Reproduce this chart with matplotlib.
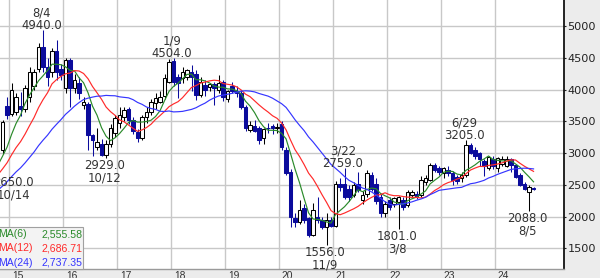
import numpy as np
import pandas as pd
import matplotlib
matplotlib.use("Agg")
import matplotlib.pyplot as plt
from matplotlib.transforms import ScaledTranslation
from matplotlib.patches import Rectangle

# ---------------- data (monthly candles, month index 0 = Jan 2015) ----------------
start_month = -2  # first visible candle: Nov 2014
opens = [3050, 3740, 3620, 3650, 3740, 3700, 3890, 4050, 4330, 4670,
         4360, 4280, 4600, 4330, 4030, 4470, 4020, 4100, 3760, 3770,
         3280, 3090, 3150, 2970, 3150, 3310, 3470, 3560, 3690, 3520,
         3330, 3240, 3560, 3650, 3780, 3810, 3900, 4120, 4450, 4200,
         4180, 4200, 4280, 4250, 3910, 4070, 4040, 4090, 3990, 4120,
         3850, 4050, 3970, 3940, 3730, 3360, 3420, 3390, 3230, 3400,
         3420, 3390, 3450, 3050, 2700, 1980, 1920, 2130, 1970, 1710,
         2000, 1950, 1830, 1950, 1850, 2520, 2520, 2440, 2340, 2520,
         2260, 2360, 2650, 2520, 2300, 2050, 2260, 2200, 2230, 2260,
         2180, 2340, 2360, 2340, 2550, 2580, 2810, 2760, 2680, 2740,
         2680, 2630, 2600, 2650, 3130, 3050, 3000, 2870, 2760, 2900,
         2760, 2830, 2800, 2900, 2810, 2650, 2520, 2380, 2450]
highs = [3520, 3890, 4100, 3950, 3960, 4070, 4360, 4330, 4740, 4940,
         4500, 4650, 4780, 4400, 4500, 4500, 4250, 4200, 3890, 3800,
         3300, 3400, 3220, 3200, 3450, 3600, 3730, 3730, 3730, 3560,
         3380, 3600, 3720, 3850, 3950, 3980, 4250, 4480, 4504, 4250,
         4350, 4330, 4380, 4300, 4200, 4150, 4100, 4120, 4230, 4150,
         4000, 4120, 4060, 4000, 3760, 3500, 3520, 3420, 3400, 3470,
         3450, 3470, 3500, 3100, 2750, 2050, 2260, 2200, 2000, 2210,
         2310, 2000, 2050, 2000, 2560, 2600, 2759, 2500, 2550, 2700,
         2400, 2730, 2700, 2600, 2350, 2250, 2300, 2310, 2330, 2300,
         2420, 2420, 2400, 2640, 2650, 2840, 2850, 2800, 2780, 2790,
         2720, 2660, 2700, 3205, 3160, 3100, 3020, 2900, 2960, 2950,
         2940, 2950, 2950, 2920, 2830, 2680, 2550, 2500, 2470]
lows = [2990, 3530, 3580, 3600, 3590, 3650, 3800, 3990, 4280, 4280,
        4050, 4200, 4150, 4150, 3950, 3730, 3950, 3850, 3700, 3050,
        2950, 3050, 2950, 2929, 3100, 3250, 3400, 3500, 3450, 3300,
        3180, 3200, 3480, 3600, 3700, 3780, 3850, 4100, 4050, 3860,
        4100, 4150, 3980, 3840, 3880, 3900, 3980, 3760, 3950, 3820,
        3800, 3950, 3880, 3700, 3350, 3330, 3330, 3150, 3150, 3320,
        3300, 3310, 3050, 2650, 1830, 1830, 1880, 1900, 1680, 1700,
        1900, 1800, 1556, 1830, 1830, 2400, 2280, 2250, 2300, 2380,
        2200, 2300, 2400, 2200, 2000, 2000, 2100, 2150, 1801, 2100,
        2150, 2300, 2280, 2300, 2500, 2560, 2700, 2650, 2600, 2640,
        2500, 2520, 2550, 2620, 2980, 2900, 2800, 2640, 2740, 2750,
        2700, 2800, 2780, 2700, 2600, 2480, 2420, 2088, 2420]
closes = [3490, 3600, 4000, 3890, 3690, 4020, 4280, 4280, 4670, 4360,
          4200, 4600, 4280, 4230, 4470, 4030, 4150, 3950, 3810, 3280,
          3200, 3180, 2970, 3150, 3390, 3550, 3600, 3680, 3520, 3340,
          3230, 3560, 3650, 3800, 3870, 3890, 4180, 4440, 4120, 4100,
          4280, 4310, 4200, 3910, 4120, 3990, 4090, 4020, 4100, 3890,
          3970, 3970, 3940, 3730, 3390, 3440, 3350, 3200, 3380, 3390,
          3390, 3410, 3090, 2680, 1990, 1920, 2100, 1950, 1710, 2100,
          1950, 1830, 1950, 1850, 2520, 2470, 2310, 2310, 2500, 2420,
          2340, 2680, 2440, 2250, 2050, 2200, 2150, 2290, 2310, 2150,
          2390, 2390, 2310, 2580, 2600, 2810, 2730, 2700, 2760, 2680,
          2580, 2560, 2660, 3130, 3000, 2950, 2910, 2790, 2940, 2800,
          2920, 2900, 2900, 2810, 2630, 2500, 2440, 2470, 2430]
# closes before the visible window (Oct 2012 .. Oct 2014), only feed the moving averages
prior_closes = [1980, 2000, 2050, 2100, 2150, 2150, 2200, 2250, 2250, 2300,
                2300, 2350, 2420, 2450, 2500, 2520, 2560, 2600, 2670, 2750,
                2800, 2850, 2900, 2910]

year_labels = ["15", "16", "17", "18", "19", "20", "21", "22", "23", "24"]
year_start_months = [0, 12, 24, 36, 48, 60, 72, 84, 96, 108]
price_ticks = [1500, 2000, 2500, 3000, 3500, 4000, 4500, 5000]

ma_periods = [6, 12, 24]
ma_names = ["MA(6)", "MA(12)", "MA(24)"]
ma_values = ["2,555.58", "2,686.71", "2,737.35"]
ma_colors = ["#2a8a2a", "#ff2a2a", "#3535ff"]

high_marks = [(7, 4940.0, "8/4"), (36, 4504.0, "1/9"), (74, 2759.0, "3/22"), (101, 3205.0, "6/29")]
low_marks = [(-3, 2650.0, "10/14"), (21, 2929.0, "10/12"), (70, 1556.0, "11/9"),
             (86, 1801.0, "3/8"), (115, 2088.0, "8/5")]

# ---------------- figure ----------------
W, H = 600, 278
fig = plt.figure(figsize=(W / 100, H / 100), dpi=100, facecolor="#ececec")
ax_right_px, ax_bottom_px = 564.3, 269.3
ax = fig.add_axes([0, (H - ax_bottom_px) / H, ax_right_px / W, ax_bottom_px / H])
ax.set_facecolor("white")

x = np.arange(len(closes)) + start_month
O = np.array(opens, float); C = np.array(closes, float)
Hh = np.array(highs, float); L = np.array(lows, float)
up = C >= O
navy = "#0b0b9c"

ax.vlines(x[up], L[up], Hh[up], color="black", lw=0.75, zorder=3)
ax.vlines(x[~up], L[~up], Hh[~up], color=navy, lw=0.75, zorder=3)
ax.bar(x[up], np.maximum(C[up] - O[up], 8), bottom=O[up], width=0.72,
       color="white", edgecolor="black", lw=0.75, zorder=4)
ax.bar(x[~up], O[~up] - C[~up], bottom=C[~up], width=0.72,
       color=navy, edgecolor=navy, lw=0.75, zorder=4)

all_closes = pd.Series(list(prior_closes) + list(closes), dtype=float)
all_x = np.arange(len(all_closes)) + start_month - len(prior_closes)
for n, col in zip(ma_periods, ma_colors):
    ma = all_closes.rolling(n).mean().values
    ax.plot(all_x, ma, color=col, lw=0.85, zorder=5)

# annotations
for m, p, d in high_marks:
    ax.annotate(f"{d}\n{p:.1f}", xy=(m, p), xytext=(-1.5, -2.0), textcoords="offset pixels",
                ha="center", va="bottom", fontsize=8.4, color="#333333", zorder=6,
                linespacing=0.95, annotation_clip=False)
for m, p, d in low_marks:
    dx = 15.5 if m < 0 else -1.5
    ax.annotate(f"{p:.1f}\n{d}", xy=(m, p), xytext=(dx, -1.0), textcoords="offset pixels",
                ha="center", va="top", fontsize=8.4, color="#333333", zorder=6,
                linespacing=0.95, annotation_clip=False)

# axes limits / grid
px_per_month = 4.5
ax.set_xlim(-0.5 - 9.3 / px_per_month, -0.5 + (ax_right_px - 9.3) / px_per_month)
ax.set_ylim(1169.3, 5409.4)
ax.set_xticks(np.array(year_start_months) - 0.5)
ax.set_xticklabels(year_labels)
ax.set_yticks(price_ticks)
ax.yaxis.tick_right()
ax.grid(True, color="#c8c8c8", lw=1.0, zorder=0)
ax.set_axisbelow(True)
ax.tick_params(axis="y", length=1.5, width=0.8, pad=0.8, labelsize=8.1, colors="#222222")
ax.tick_params(axis="x", length=0, pad=1.5, labelsize=7.4, labelcolor="#333333")
for lab in ax.get_xticklabels():
    lab.set_fontfamily("Liberation Sans")
    lab.set_horizontalalignment("left")
    lab.set_transform(lab.get_transform() + ScaledTranslation(2.5 / 100, 0, fig.dpi_scale_trans))
for s in ("top", "left"):
    ax.spines[s].set_visible(False)
ax.spines["right"].set_color("black"); ax.spines["right"].set_linewidth(1.2)
ax.spines["bottom"].set_color("#9a9a9a"); ax.spines["bottom"].set_linewidth(1.0)

# legend box
ax.add_patch(Rectangle((-0.01, 0), 0.01 + 83.3 / ax_right_px, (ax_bottom_px - 227.3) / ax_bottom_px,
                       transform=ax.transAxes, facecolor="#f3f3f3", edgecolor="#a0a0a0",
                       lw=0.8, zorder=7, clip_on=False))
row_y = [234.3, 248.3, 262.7]
for name, val, col, ry in zip(ma_names, ma_values, ma_colors, row_y):
    yy = (ax_bottom_px - ry) / ax_bottom_px
    ax.text(-2 / ax_right_px, yy, name, transform=ax.transAxes, ha="left", va="center",
            fontsize=7.6, color=col, family="Liberation Sans", zorder=8)
    ax.text(82 / ax_right_px, yy, val, transform=ax.transAxes, ha="right", va="center",
            fontsize=7.6, color=col, family="Liberation Sans", zorder=8)

fig.savefig("out.png", dpi=100, facecolor=fig.get_facecolor())
